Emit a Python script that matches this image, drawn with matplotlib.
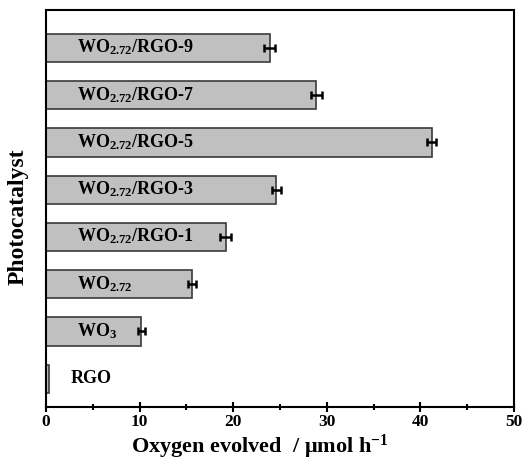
import numpy as np
import matplotlib
matplotlib.use("Agg")
import matplotlib.pyplot as plt
from matplotlib.ticker import MultipleLocator

plt.rcParams['font.family'] = 'Liberation Serif'
plt.rcParams['font.weight'] = 'bold'
plt.rcParams['axes.labelweight'] = 'bold'
plt.rcParams['mathtext.fontset'] = 'custom'
plt.rcParams['mathtext.rm'] = 'Liberation Serif:bold'
plt.rcParams['mathtext.it'] = 'Liberation Serif:bold'
plt.rcParams['mathtext.bf'] = 'Liberation Serif:bold'
plt.rcParams['mathtext.default'] = 'rm'

# bottom to top
catalysts = ["RGO", "WO$_{3}$", "WO$_{2.72}$", "WO$_{2.72}$/RGO-1", "WO$_{2.72}$/RGO-3",
             "WO$_{2.72}$/RGO-5", "WO$_{2.72}$/RGO-7", "WO$_{2.72}$/RGO-9"]
oxygen = [0.35, 10.2, 15.6, 19.2, 24.6, 41.2, 28.9, 23.9]
errors = [0.0, 0.35, 0.4, 0.6, 0.5, 0.5, 0.55, 0.6]

fig = plt.figure(figsize=(5.27, 4.62), dpi=100)
ax = fig.add_axes([0.0873, 0.119, 0.888, 0.859])

pos = np.arange(len(catalysts))
ax.barh(pos, oxygen, height=0.6, color="#c0c0c0", edgecolor="#3a3a3a", linewidth=1.2)
ax.errorbar(oxygen[1:], pos[1:], xerr=errors[1:], fmt="none", ecolor="black",
            elinewidth=1.8, capsize=3, capthick=1.8)

for p, name in zip(pos, catalysts):
    x0 = 2.6 if name == "RGO" else 3.3
    ax.text(x0, p - 0.1, name, ha="left", va="baseline", fontsize=13)

ax.set_xlim(0, 50)
ax.set_ylim(-0.6, 7.8)
ax.set_yticks([])
ax.xaxis.set_major_locator(MultipleLocator(10))
ax.xaxis.set_minor_locator(MultipleLocator(5))
ax.tick_params(axis="x", which="major", direction="inout", length=7.5, width=1.5,
               labelsize=12.5, pad=1)
ax.tick_params(axis="x", which="minor", direction="inout", length=4, width=1.5)

for s in ax.spines.values():
    s.set_linewidth(1.5)

ax.set_xlabel("Oxygen evolved  / \u03bcmol h$^{-1}$", fontsize=16)
ax.xaxis.set_label_coords(0.457, -0.064)
ax.set_ylabel("Photocatalyst", fontsize=17)
ax.yaxis.set_label_coords(-0.038, 0.48)

fig.savefig("out.png", dpi=100)
